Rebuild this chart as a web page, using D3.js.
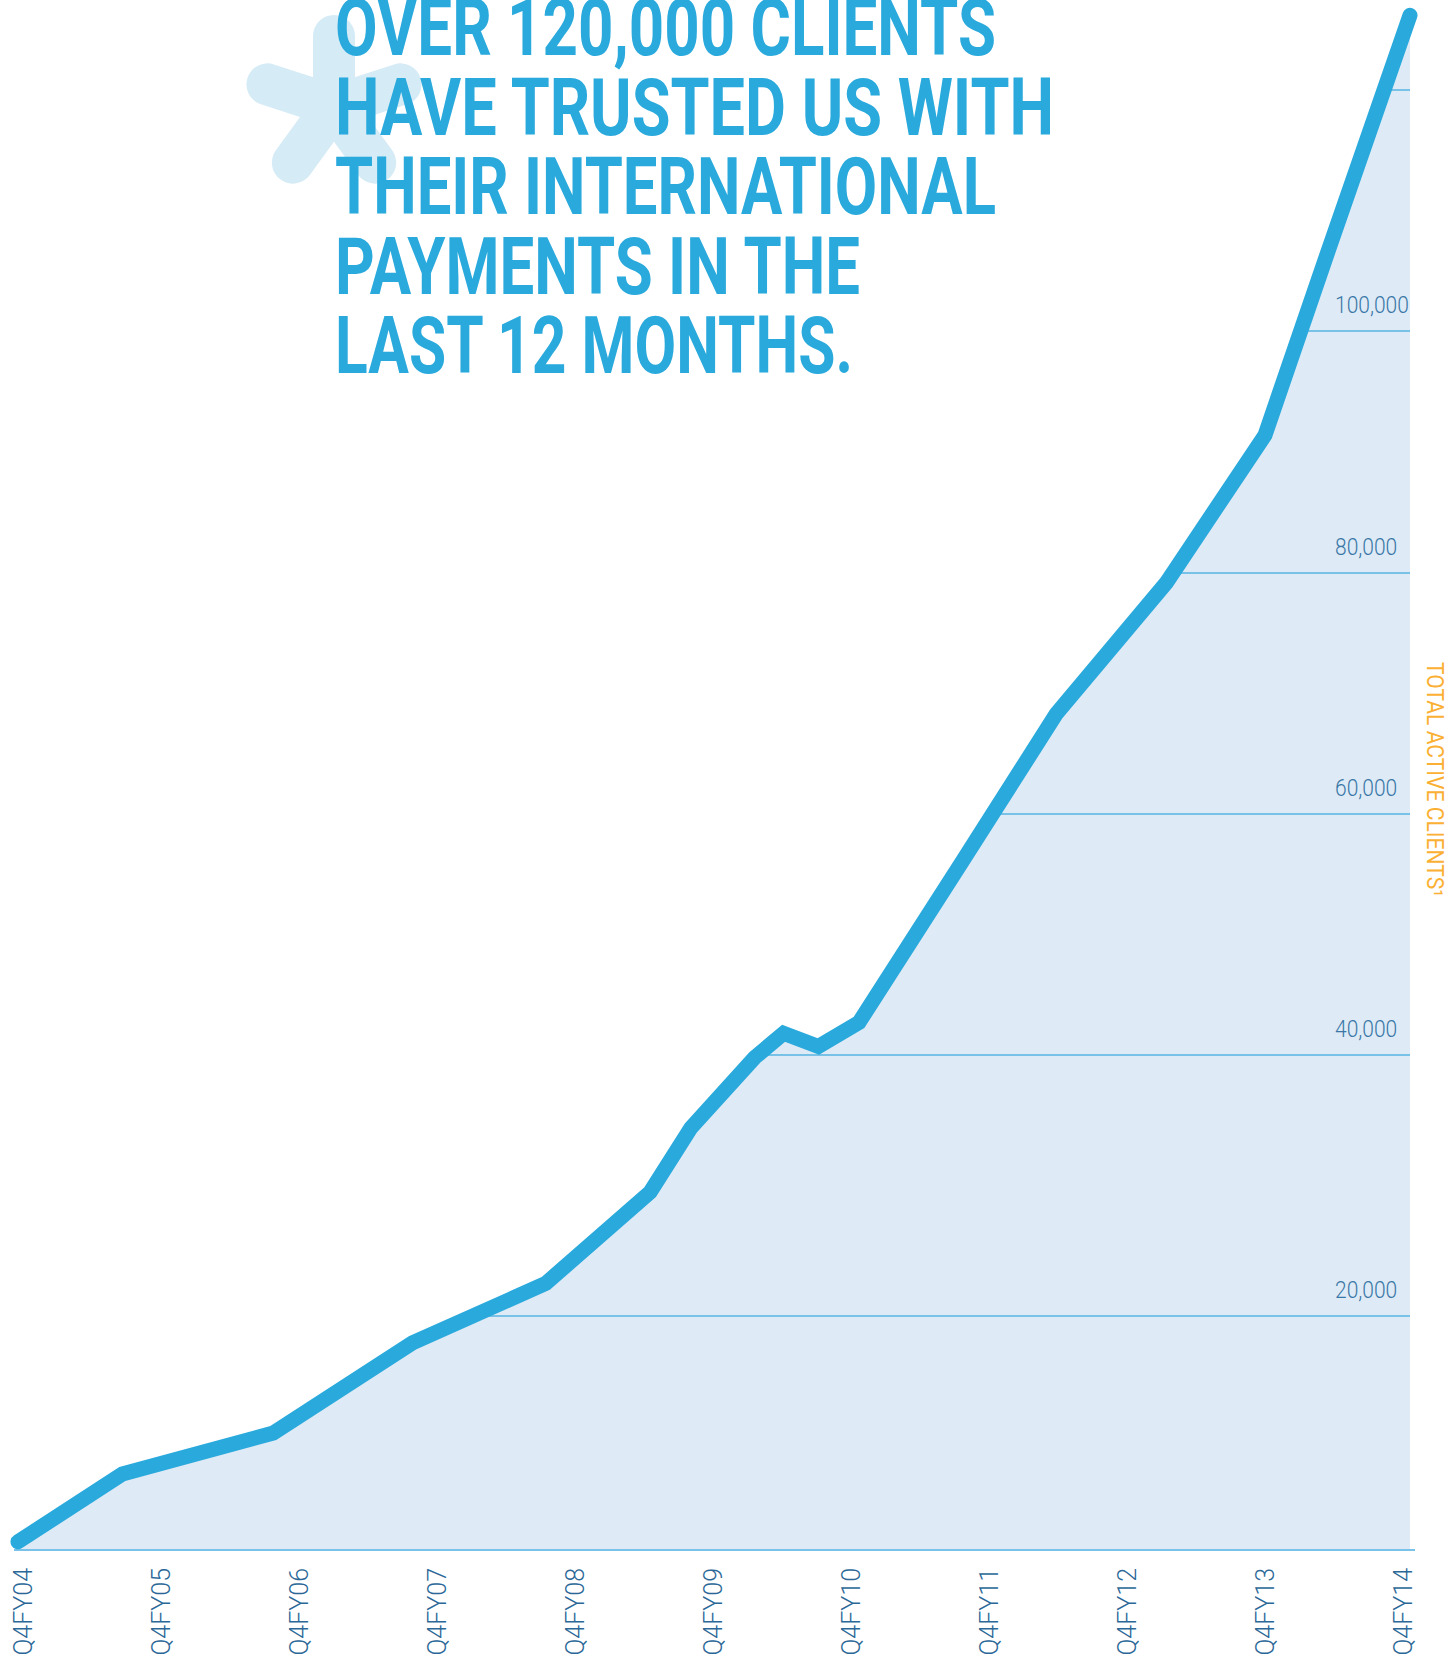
<!DOCTYPE html>
<html><head><meta charset="utf-8">
<script src="https://cdn.jsdelivr.net/npm/d3@7"></script>
<style>html,body{margin:0;padding:0;background:#fff;} svg{display:block;}</style>
</head><body><svg id="chart" width="1456" height="1660"></svg>
<script>
// ---- data ----
const monthsSinceQ4FY04 = [0, 9, 22, 34, 45.5, 54.5, 58, 63.5, 66, 69, 72.5, 81.5, 89.5, 99, 107.5, 113, 120];
const activeClients     = [700, 6500, 10000, 17700, 22500, 29500, 34400, 39800, 41800, 40700, 42700, 56200, 68300, 79200, 91400, 106800, 126200];
const xCategories = ["Q4FY04","Q4FY05","Q4FY06","Q4FY07","Q4FY08","Q4FY09","Q4FY10","Q4FY11","Q4FY12","Q4FY13","Q4FY14"];
const gridValues  = [20000, 40000, 60000, 80000, 100000, 120000];
const tickLabelValues = [20000, 40000, 60000, 80000, 100000];
const titleLines = ["OVER 120,000 CLIENTS","HAVE TRUSTED US WITH","THEIR INTERNATIONAL","PAYMENTS IN THE","LAST 12 MONTHS."];
const axisTitle = "TOTAL ACTIVE CLIENTS";
const axisTitleNote = "¹";

const points = monthsSinceQ4FY04.map((m, i) => ({m, v: activeClients[i]}));

// ---- layout / style ----
const W = 1456, H = 1660;
const BLUE = "#29a9dc", FILL = "#deebf6", GRID = "#56b5e3", LABEL = "#3a77a6", XLABEL = "#2b6898", STAR = "#d5ebf6", ORANGE = "#fbb033";

const svg = d3.select("#chart");
svg.append("rect").attr("width", W).attr("height", H).attr("fill", "#fff");

const x = d3.scaleLinear().domain([0, 120]).range([18, 1410]);
// The printed grid is not evenly spaced near the bottom; piecewise linear scale reproduces it
const y = d3.scaleLinear()
  .domain([0, 20000, 40000, 60000, 80000, 100000, 120000])
  .range([1550, 1316, 1055, 814, 573, 331, 90]);
const xl = d3.scalePoint().domain(xCategories).range([23, 1403]);

// asterisk (decorative)
const star = svg.append("g").attr("transform", "translate(334,106)");
[-90, -18, 54, 126, 198].forEach(a => {
  const r = 70, rad = a * Math.PI / 180;
  star.append("line").attr("x1", 0).attr("y1", 0)
    .attr("x2", r * Math.cos(rad)).attr("y2", r * Math.sin(rad))
    .attr("stroke", STAR).attr("stroke-width", 42).attr("stroke-linecap", "round");
});

// title
const title = svg.append("g");
const titleWidths = [661, 719, 661, 525, 518];
titleLines.forEach((t, i) => {
  title.append("text").attr("x", 335).attr("y", 55 + i * 79.6)
    .attr("font-family", "Roboto, 'DejaVu Sans', sans-serif").attr("font-weight", 700)
    .attr("font-size", 80).attr("fill", BLUE)
    .attr("textLength", titleWidths[i]).attr("lengthAdjust", "spacingAndGlyphs")
    .text(t);
});

// area
const area = d3.area().x(d => x(d.m)).y0(y(0)).y1(d => y(d.v));
const line = d3.line().x(d => x(d.m)).y(d => y(d.v));

svg.append("clipPath").attr("id", "areaClip").append("path").attr("d", area(points));
svg.append("path").attr("d", area(points)).attr("fill", FILL);

// grid lines clipped to the area
svg.append("g").attr("clip-path", "url(#areaClip)")
  .selectAll("line").data(gridValues).join("line")
  .attr("x1", 0).attr("x2", 1413)
  .attr("y1", d => y(d)).attr("y2", d => y(d))
  .attr("stroke", GRID).attr("stroke-width", 1.3);

// baseline
svg.append("line").attr("x1", 14).attr("x2", 1415).attr("y1", y(0)).attr("y2", y(0))
  .attr("stroke", "#79c2ea").attr("stroke-width", 2.2);

// line
svg.append("path").attr("d", line(points)).attr("fill", "none")
  .attr("stroke", BLUE).attr("stroke-width", 15)
  .attr("stroke-linecap", "round").attr("stroke-linejoin", "miter");

// y tick labels
const fmt = d3.format(",");
svg.append("g").selectAll("text").data(tickLabelValues).join("text")
  .attr("transform", d => `translate(1335,${y(d) - 18}) scale(0.875,1)`)
  .attr("font-family", "Roboto, sans-serif").attr("font-weight", 300)
  .attr("font-size", 24).attr("fill", LABEL)
  .text(d => fmt(d));

// x labels
svg.append("g").selectAll("text").data(xCategories).join("text")
  .attr("transform", d => `translate(${xl(d) + 8.5},1568) rotate(-90)`)
  .attr("text-anchor", "end")
  .attr("font-family", "Roboto, sans-serif").attr("font-weight", 300)
  .attr("font-size", 25).attr("fill", XLABEL)
  .text(d => d);

// right axis title
const at = svg.append("text")
  .attr("transform", "translate(1427,662) rotate(90)")
  .attr("font-family", "Roboto, sans-serif").attr("font-weight", 400)
  .attr("font-size", 23).attr("fill", ORANGE)
  .attr("textLength", 235).attr("lengthAdjust", "spacingAndGlyphs");
at.append("tspan").text(axisTitle);
at.append("tspan").text(axisTitleNote);
</script>
</body></html>
